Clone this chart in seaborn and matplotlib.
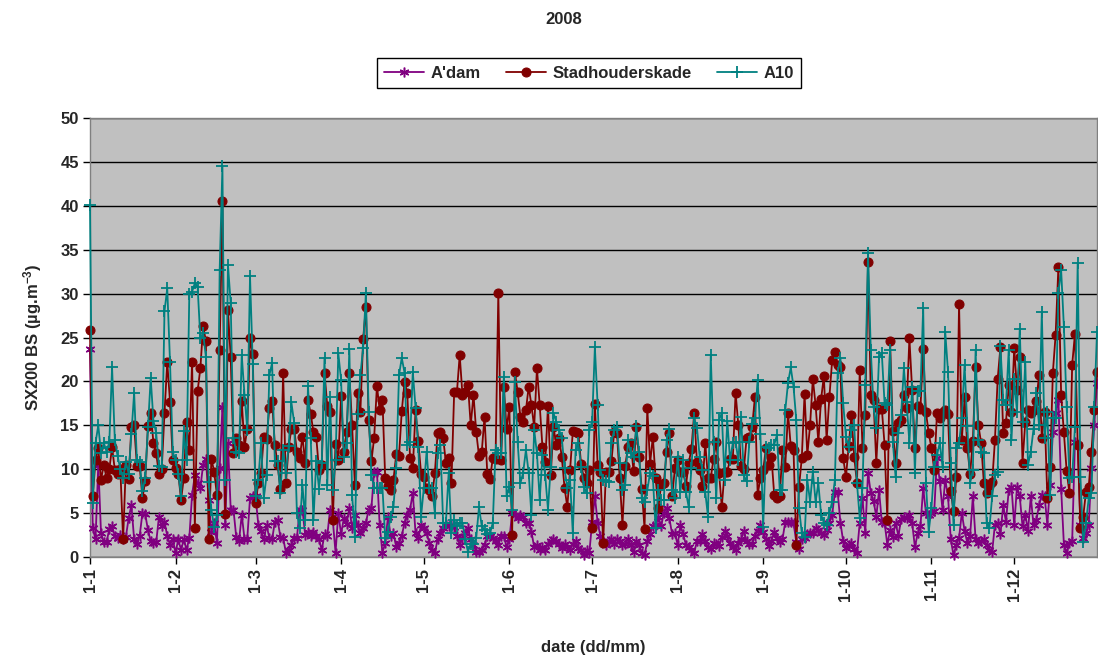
import numpy as np
import pandas as pd
import matplotlib
matplotlib.use("Agg")
import matplotlib.pyplot as plt
import seaborn as sns

# ---------------- data (daily values, 2008) ----------------
month_labels = ["1-1", "1-2", "1-3", "1-4", "1-5", "1-6", "1-7", "1-8", "1-9", "1-10", "1-11", "1-12"]

stad_jan = [25.8, 7.0, 11.0, 12.4, 8.8, 10.5, 9.0, 10.0, 12.5, 9.9, 9.5, 10.0, 2.0, 10.5, 8.9, 14.8, 15.0, 10.4, 10.4, 6.7, 8.6, 14.9, 16.4, 13.0, 11.8, 9.4, 10.0, 16.4, 22.2, 17.7, 11.0]
stad_feb = [10.1, 9.5, 6.5, 9.0, 15.4, 12.2, 22.2, 3.3, 18.9, 21.5, 26.3, 24.6, 2.0, 11.2, 9.7, 7.1, 23.6, 40.5, 4.9, 28.1, 22.8, 11.8, 13.6, 12.8, 17.8, 12.5, 14.6, 24.9, 23.1]
stad_mar = [6.1, 8.4, 9.6, 13.7, 13.4, 17.0, 17.8, 12.8, 10.5, 7.7, 21.0, 8.4, 12.5, 14.6, 14.6, 12.0, 11.3, 13.7, 10.7, 17.9, 16.3, 14.2, 13.7, 9.9, 10.5, 21.0, 17.2, 16.5, 4.2, 12.9, 11.1]
stad_apr = [18.3, 12.0, 14.2, 21.0, 15.0, 8.2, 18.7, 16.5, 24.8, 28.5, 15.6, 10.9, 13.6, 19.5, 16.7, 17.9, 9.0, 8.1, 7.6, 8.8, 11.7, 11.5, 16.6, 19.9, 18.7, 11.3, 10.1, 16.7, 13.2, 9.5]
stad_may = [9.1, 7.9, 7.6, 6.9, 9.6, 14.1, 14.2, 13.6, 10.7, 11.3, 8.4, 18.8, 18.8, 23.0, 18.5, 18.8, 19.6, 15.0, 18.5, 14.2, 11.5, 12.0, 16.0, 9.5, 8.9, 11.3, 11.2, 30.1, 11.0, 19.4, 14.6]
stad_jun = [17.1, 2.5, 21.1, 18.8, 16.0, 15.4, 16.7, 19.4, 17.3, 14.8, 21.5, 17.3, 12.5, 10.8, 17.2, 9.3, 14.8, 12.8, 13.6, 11.4, 7.9, 5.7, 9.9, 14.3, 14.2, 14.1, 10.6, 9.0, 8.4, 9.9]
stad_jul = [3.3, 17.4, 10.5, 9.7, 1.6, 9.7, 9.7, 10.9, 14.2, 14.1, 9.0, 3.6, 10.4, 12.5, 13.0, 9.8, 14.8, 11.4, 7.7, 3.2, 17.0, 10.6, 13.7, 9.0, 5.6, 8.2, 8.4, 12.0, 14.1, 6.9, 10.1]
stad_aug = [11.0, 9.7, 9.7, 8.1, 10.7, 12.3, 16.4, 10.8, 9.9, 8.1, 13.0, 9.0, 9.0, 11.2, 13.1, 9.6, 5.7, 9.7, 9.7, 11.2, 11.2, 18.7, 15.0, 10.4, 10.0, 13.6, 13.7, 14.8, 18.2, 7.1, 9.0]
stad_sep = [9.9, 12.4, 10.5, 11.4, 7.1, 6.7, 6.9, 12.2, 10.3, 16.4, 12.6, 12.2, 1.4, 8.0, 11.3, 18.6, 11.6, 15.0, 20.3, 17.3, 13.1, 18.0, 20.6, 13.3, 18.2, 22.4, 23.3, 21.9, 21.6, 11.3]
stad_oct = [9.1, 12.6, 16.2, 11.4, 8.4, 21.3, 12.4, 16.2, 33.6, 18.5, 17.9, 10.7, 16.9, 16.9, 12.8, 4.2, 24.6, 14.3, 10.7, 15.3, 15.6, 18.5, 17.0, 24.9, 19.0, 12.4, 17.2, 16.9, 23.7, 16.5, 14.1]
stad_nov = [12.4, 9.9, 16.4, 15.8, 16.5, 16.7, 16.3, 7.5, 5.2, 9.1, 28.8, 13.3, 18.2, 12.4, 9.5, 13.2, 21.6, 15.0, 13.0, 8.4, 7.3, 8.1, 8.5, 13.3, 20.3, 23.9, 14.1, 15.3, 19.6, 16.5]
stad_dec = [23.8, 19.0, 22.8, 10.7, 15.4, 16.7, 16.4, 16.7, 17.8, 20.7, 13.6, 16.5, 6.7, 10.2, 21.0, 25.3, 33.0, 18.5, 14.2, 9.8, 7.3, 21.9, 25.4, 12.8, 3.3, 4.6, 7.4, 8.0, 12.0, 16.7, 21.1]

a10_jan = [40.1, 6.2, 13.0, 15.0, 11.8, 13.0, 12.0, 13.1, 21.6, 13.3, 11.5, 10.0, 9.0, 10.8, 9.5, 14.0, 18.7, 11.0, 10.8, 7.5, 9.0, 14.8, 20.4, 15.5, 14.1, 10.4, 10.2, 28.0, 30.6, 22.2, 12.0]
a10_feb = [11.0, 9.5, 7.0, 14.3, 11.0, 30.0, 30.2, 31.2, 30.8, 24.9, 25.5, 22.8, 8.5, 5.4, 3.4, 4.8, 32.7, 44.5, 8.8, 33.3, 28.9, 13.6, 12.0, 11.8, 23.0, 18.5, 14.5, 32.0, 22.0]
a10_mar = [6.9, 8.8, 13.0, 6.7, 9.3, 20.7, 22.1, 10.9, 10.9, 7.3, 12.2, 9.6, 12.6, 17.6, 15.3, 5.0, 3.3, 8.2, 4.2, 19.5, 13.6, 4.2, 10.9, 7.8, 10.7, 22.7, 8.2, 18.2, 7.6, 11.0, 23.2]
a10_apr = [20.2, 11.4, 13.0, 23.7, 7.1, 2.3, 16.3, 20.7, 23.8, 30.1, 16.5, 9.3, 7.9, 7.9, 7.9, 7.9, 2.2, 2.9, 4.6, 5.7, 10.1, 20.7, 22.7, 21.0, 12.8, 13.1, 21.1, 17.0, 12.5, 4.6]
a10_may = [7.9, 12.0, 7.9, 7.9, 5.0, 11.8, 12.8, 3.9, 3.9, 9.6, 2.7, 4.2, 3.5, 3.9, 3.9, 2.0, 0.6, 1.5, 1.5, 2.2, 5.7, 3.5, 3.1, 2.6, 2.7, 3.9, 12.2, 11.8, 11.8, 20.5, 6.9]
a10_jun = [8.0, 5.4, 19.9, 13.1, 8.4, 9.6, 12.2, 9.6, 4.8, 14.5, 11.8, 6.5, 11.6, 9.3, 5.4, 10.3, 16.4, 15.4, 14.5, 13.6, 10.1, 7.9, 8.8, 2.7, 12.2, 13.0, 10.3, 8.0, 7.3, 14.5]
a10_jul = [15.4, 23.9, 17.3, 9.9, 8.8, 8.6, 8.5, 13.0, 14.5, 14.8, 10.7, 7.6, 8.2, 13.3, 11.8, 11.4, 14.9, 12.0, 6.7, 6.3, 7.6, 9.6, 9.2, 3.3, 7.6, 6.5, 6.5, 13.3, 14.6, 7.6, 6.7]
a10_aug = [11.4, 7.4, 11.0, 7.4, 5.7, 10.1, 15.8, 14.7, 11.4, 9.9, 7.4, 4.6, 23.0, 13.1, 6.7, 15.6, 16.4, 8.8, 15.5, 11.0, 13.0, 13.1, 11.0, 16.0, 9.3, 8.6, 13.1, 15.2, 15.8, 20.2, 14.0]
a10_sep = [3.4, 12.5, 12.4, 12.8, 12.8, 13.9, 7.6, 7.6, 16.7, 19.8, 21.6, 19.4, 15.6, 5.6, 2.7, 2.3, 8.8, 6.3, 9.7, 6.3, 8.4, 4.8, 3.9, 3.6, 5.0, 6.3, 8.8, 21.0, 22.7, 17.5]
a10_oct = [13.7, 12.5, 14.5, 15.0, 8.4, 4.4, 7.9, 19.6, 34.6, 23.6, 17.1, 14.7, 22.8, 23.2, 17.5, 17.3, 23.6, 13.1, 9.1, 14.1, 16.2, 21.5, 17.6, 13.0, 19.4, 9.6, 18.9, 18.9, 28.4, 8.4, 2.9]
a10_nov = [5.6, 10.3, 11.6, 13.0, 10.3, 25.6, 21.1, 10.7, 3.6, 12.4, 13.0, 15.8, 21.9, 14.9, 8.4, 9.9, 23.6, 13.3, 12.0, 11.8, 3.9, 3.3, 6.9, 9.3, 9.7, 24.0, 17.9, 17.3, 23.6, 13.3]
a10_dec = [20.3, 16.5, 26.0, 15.4, 22.2, 10.5, 12.0, 14.6, 18.7, 15.0, 27.9, 13.6, 16.5, 7.1, 15.8, 15.8, 30.1, 32.7, 26.2, 17.1, 9.0, 9.1, 14.8, 33.5, 9.1, 1.7, 3.9, 6.7, 7.3, 17.1, 25.6]

adam_jan = [23.7, 3.3, 2.0, 10.5, 2.7, 1.7, 1.7, 3.2, 3.5, 2.4, 2.2, 2.5, 2.0, 2.3, 4.4, 5.9, 2.0, 1.5, 2.4, 5.0, 4.9, 3.1, 1.8, 1.6, 1.7, 4.6, 3.5, 4.0, 2.4, 1.4, 2.0]
adam_feb = [0.5, 2.0, 0.8, 2.0, 0.8, 2.2, 7.1, 9.3, 8.4, 7.9, 10.5, 11.2, 6.5, 2.9, 3.9, 1.6, 10.1, 17.1, 3.6, 13.0, 5.4, 5.4, 2.3, 1.8, 4.8, 2.1, 2.1, 6.7, 6.9]
adam_mar = [6.9, 3.7, 3.0, 2.0, 3.6, 2.2, 2.0, 4.0, 4.2, 2.3, 2.2, 0.5, 0.8, 1.4, 2.2, 2.2, 5.4, 5.4, 2.5, 2.8, 2.4, 2.8, 2.4, 2.0, 0.8, 2.6, 2.4, 5.4, 4.2, 0.5, 5.0]
adam_apr = [2.6, 4.4, 3.8, 5.6, 3.3, 4.8, 3.6, 2.7, 3.3, 3.9, 5.4, 5.6, 9.7, 9.7, 3.6, 0.5, 1.6, 4.6, 2.4, 2.7, 1.1, 1.6, 2.4, 3.9, 4.8, 5.4, 7.3, 2.7, 2.2, 3.6]
adam_may = [3.3, 2.7, 1.6, 0.8, 0.5, 2.0, 2.7, 3.3, 3.8, 3.5, 3.6, 3.4, 2.4, 1.4, 2.2, 2.7, 3.3, 2.0, 1.4, 0.6, 0.6, 0.8, 1.4, 2.4, 2.4, 2.2, 1.8, 1.4, 2.4, 2.4, 1.1]
adam_jun = [2.0, 5.0, 4.8, 4.4, 4.8, 4.6, 3.9, 3.9, 2.9, 1.1, 1.4, 0.8, 1.1, 0.8, 1.5, 1.8, 2.1, 1.8, 1.5, 1.0, 1.5, 1.1, 0.8, 1.5, 1.8, 1.0, 0.8, 0.2, 0.8, 0.5]
adam_jul = [4.0, 6.9, 3.9, 2.4, 1.8, 1.4, 1.8, 2.0, 1.5, 2.1, 1.8, 1.4, 1.5, 2.0, 1.4, 0.6, 1.8, 1.4, 0.5, 0.2, 1.8, 2.6, 3.5, 3.6, 4.6, 3.5, 5.0, 5.6, 4.4, 2.6, 2.7]
adam_aug = [1.4, 3.6, 2.6, 1.4, 1.1, 0.8, 0.5, 1.8, 1.8, 2.6, 1.8, 1.1, 0.9, 1.6, 1.5, 1.2, 2.3, 3.0, 2.4, 1.6, 1.1, 0.8, 1.6, 2.0, 3.0, 1.8, 1.5, 1.5, 2.4, 3.0, 3.6]
adam_sep = [2.8, 2.0, 1.2, 1.8, 2.9, 2.2, 1.7, 2.0, 4.0, 4.0, 4.0, 3.9, 1.7, 0.9, 2.1, 2.2, 2.6, 2.7, 2.7, 3.3, 3.1, 2.7, 2.5, 3.1, 3.9, 4.8, 7.4, 7.4, 3.9, 1.8]
adam_oct = [1.0, 1.4, 1.6, 0.9, 0.5, 3.9, 6.7, 2.7, 9.6, 7.3, 6.4, 4.6, 7.6, 4.0, 3.9, 1.4, 3.1, 2.3, 3.9, 2.4, 4.3, 4.6, 4.4, 4.8, 3.9, 1.1, 2.7, 3.5, 7.9, 5.0, 4.8]
adam_nov = [5.0, 5.2, 11.3, 8.6, 5.4, 8.8, 6.9, 2.0, 0.2, 1.4, 2.2, 5.0, 3.0, 1.6, 2.4, 6.9, 2.0, 1.6, 1.8, 2.0, 1.4, 0.8, 0.6, 3.7, 3.9, 2.6, 5.9, 4.0, 7.6, 8.0]
adam_dec = [3.6, 8.0, 6.9, 3.5, 4.8, 3.0, 6.9, 3.6, 4.2, 5.9, 7.1, 6.9, 3.7, 8.2, 14.2, 16.4, 17.9, 7.8, 1.4, 0.5, 1.6, 1.8, 13.1, 12.8, 3.6, 2.2, 2.7, 3.6, 10.1, 15.0, 19.8]

stad = sum([stad_jan, stad_feb, stad_mar, stad_apr, stad_may, stad_jun,
            stad_jul, stad_aug, stad_sep, stad_oct, stad_nov, stad_dec], [])
a10 = sum([a10_jan, a10_feb, a10_mar, a10_apr, a10_may, a10_jun,
           a10_jul, a10_aug, a10_sep, a10_oct, a10_nov, a10_dec], [])
adam = sum([adam_jan, adam_feb, adam_mar, adam_apr, adam_may, adam_jun,
            adam_jul, adam_aug, adam_sep, adam_oct, adam_nov, adam_dec], [])

dates = pd.date_range("2008-01-01", "2008-12-31", freq="D")
day0 = pd.Timestamp("2008-01-01")

def frame(vals):
    n = len(vals)
    d = dates[:n]
    return pd.DataFrame({"day": (d - day0).days.astype(float), "value": vals})

df_adam = frame(adam)
df_stad = frame(stad)
df_a10 = frame(a10)

month_starts = pd.date_range("2008-01-01", "2008-12-01", freq="MS")
month_pos = [(m - day0).days for m in month_starts]

# ---------------- style ----------------
sns.set_style("white")
plt.rcParams["font.family"] = ["Liberation Sans", "DejaVu Sans"]
plt.rcParams["font.weight"] = "bold"
plt.rcParams["mathtext.fontset"] = "custom"
plt.rcParams["mathtext.rm"] = "Liberation Sans:bold"
plt.rcParams["mathtext.bf"] = "Liberation Sans:bold"
plt.rcParams["mathtext.default"] = "bf"

c_adam = "#800080"
c_stad = "#800000"
c_a10 = "#008080"

fig = plt.figure(figsize=(10.98, 6.64), dpi=100)
ax = fig.add_axes([90 / 1098, (664 - 557) / 664, (1097 - 90) / 1098, (557 - 118) / 664])
ax.set_facecolor("#C0C0C0")

sns.lineplot(data=df_adam, x="day", y="value", ax=ax, color=c_adam, lw=1.3,
             marker=(6, 2, 0), markersize=7, markeredgewidth=1.1, markeredgecolor=c_adam,
             label="A'dam", clip_on=False, zorder=3)
sns.lineplot(data=df_stad, x="day", y="value", ax=ax, color=c_stad, lw=1.3,
             marker="o", markersize=6.5, markeredgecolor=c_stad, markerfacecolor=c_stad,
             label="Stadhouderskade", clip_on=False, zorder=4)
sns.lineplot(data=df_a10, x="day", y="value", ax=ax, color=c_a10, lw=1.3,
             marker="+", markersize=8, markeredgewidth=1.3, markeredgecolor=c_a10,
             label="A10", clip_on=False, zorder=5)

ax.set_xlim(0, 365)
ax.set_ylim(0, 50)
ax.set_yticks(np.arange(0, 51, 5))
ax.set_xticks(month_pos)
ax.set_xticklabels(month_labels, rotation=90, fontsize=12, fontweight="bold")
for lab in ax.get_yticklabels():
    lab.set_fontsize(12)
    lab.set_fontweight("bold")

ax.yaxis.grid(True, color="black", lw=1.0)
ax.xaxis.grid(False)
ax.set_axisbelow(True)
for s in ax.spines.values():
    s.set_color("#808080")
    s.set_linewidth(1.0)
ax.tick_params(axis="both", direction="out", length=5, width=1, color="black",
               left=True, bottom=True, pad=3)

ax.set_xlabel("date (dd/mm)", fontsize=12, fontweight="bold", labelpad=28)
ax.set_ylabel("SX200 BS (µg.m$^{-3}$)", fontsize=12, fontweight="bold", labelpad=12)

fig.text(0.513, 0.97, "2008", ha="center", va="center", fontsize=12, fontweight="bold")

leg = ax.legend(loc="center", bbox_to_anchor=(589 / 1098, (664 - 73) / 664),
                bbox_transform=fig.transFigure, ncol=3, frameon=True, fancybox=False,
                edgecolor="black", facecolor="white", framealpha=1,
                prop={"weight": "bold", "size": 12}, handlelength=2.4,
                handletextpad=0.4, columnspacing=1.5, borderpad=0.45)
leg.get_frame().set_linewidth(1.0)

fig.savefig("out.png", dpi=100)
